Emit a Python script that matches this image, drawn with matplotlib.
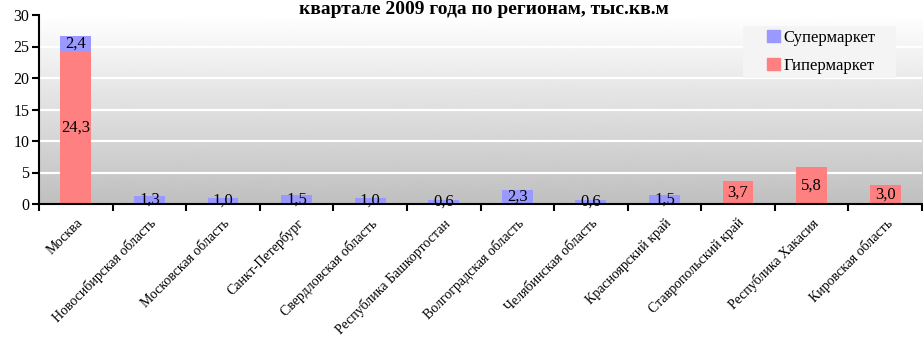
import numpy as np
import matplotlib
matplotlib.use("Agg")
import matplotlib.pyplot as plt
from matplotlib.patches import Patch, Rectangle

plt.rcParams['font.family'] = ['Liberation Serif', 'DejaVu Serif']

regions = [
    'Москва', 'Новосибирская область', 'Московская область', 'Санкт-Петербург',
    'Свердловская область', 'Республика Башкортостан', 'Волгоградская область',
    'Челябинская область', 'Красноярский край', 'Ставропольский край',
    'Республика Хакасия', 'Кировская область',
]
hyper = [24.3, 0, 0, 0, 0, 0, 0, 0, 0, 3.7, 5.8, 3.0]
super_ = [2.4, 1.3, 1.0, 1.5, 1.0, 0.6, 2.3, 0.6, 1.5, 0, 0, 0]
y_ticks = [0, 5, 10, 15, 20, 25, 30]

SUPER_COLOR = '#9999ff'
HYPER_COLOR = '#ff8080'

fig = plt.figure(figsize=(9.23, 3.4), dpi=100)
ax = fig.add_axes([39 / 923, 1 - 204 / 340, 883 / 923, 189 / 340])

x = np.arange(len(regions))
ax.set_xlim(-0.5, len(regions) - 0.5)
ax.set_ylim(0, 30)

# vertical grey gradient behind the plot
grad = np.linspace(1.0, 0.75, 256).reshape(-1, 1)
ax.imshow(grad, cmap='gray', vmin=0, vmax=1, aspect='auto',
          extent=(-0.5, len(regions) - 0.5, 0, 30), origin='upper', zorder=0)

for v in y_ticks[1:]:
    ax.axhline(v, color='white', lw=1.6, zorder=1)

width = 0.42
hb = ax.bar(x, hyper, width, color=HYPER_COLOR, zorder=2)
sb = ax.bar(x, super_, width, bottom=hyper, color=SUPER_COLOR, zorder=2)

def fmt(v):
    return f'{v:.1f}'.replace('.', ',')

for bars, vals, base in ((hb, hyper, [0] * len(hyper)), (sb, super_, hyper)):
    for rect, v, b in zip(bars, vals, base):
        if v > 0:
            ax.text(rect.get_x() + rect.get_width() / 2, b + v / 2, fmt(v),
                    ha='center', va='center', fontsize=12, zorder=3)

ax.set_yticks(y_ticks)
ax.tick_params(axis='y', direction='out', length=5, width=1.5, labelsize=11.5, pad=2)
ax.set_xticks(x)
ax.set_xticklabels(regions, rotation=45, ha='right', rotation_mode='anchor', fontsize=10)
ax.tick_params(axis='x', which='major', length=0, pad=9)
ax.set_xticks(np.arange(-0.5, len(regions)), minor=True)
ax.tick_params(axis='x', which='minor', direction='out', length=5, width=1.5)

for side in ('top', 'right'):
    ax.spines[side].set_visible(False)
for side in ('left', 'bottom'):
    ax.spines[side].set_linewidth(1.5)
    ax.spines[side].set_zorder(4)

# legend panel, hides the grid lines under the legend
ax.add_patch(Rectangle((743 / 923, 1 - 78 / 340), 153 / 923, 52 / 340,
                       transform=fig.transFigure, facecolor='#f4f4f4',
                       edgecolor='none', zorder=4, clip_on=False))
handles = [Patch(color=SUPER_COLOR), Patch(color=HYPER_COLOR)]
leg = ax.legend(handles, ['Супермаркет', 'Гипермаркет'], loc='upper left',
                bbox_to_anchor=(767 / 923, 1 - 30 / 340), bbox_transform=fig.transFigure,
                frameon=False, fontsize=12, handlelength=0.75,
                handleheight=0.75, handletextpad=0.25, labelspacing=0.7,
                borderpad=0, borderaxespad=0)
leg.set_zorder(5)

fig.text(484 / 923, 1 - 1 / 340, 'квартале 2009 года по регионам, тыс.кв.м',
         ha='center', va='top', fontsize=14, fontweight='bold')

fig.savefig('out.png', dpi=100, facecolor='white')
